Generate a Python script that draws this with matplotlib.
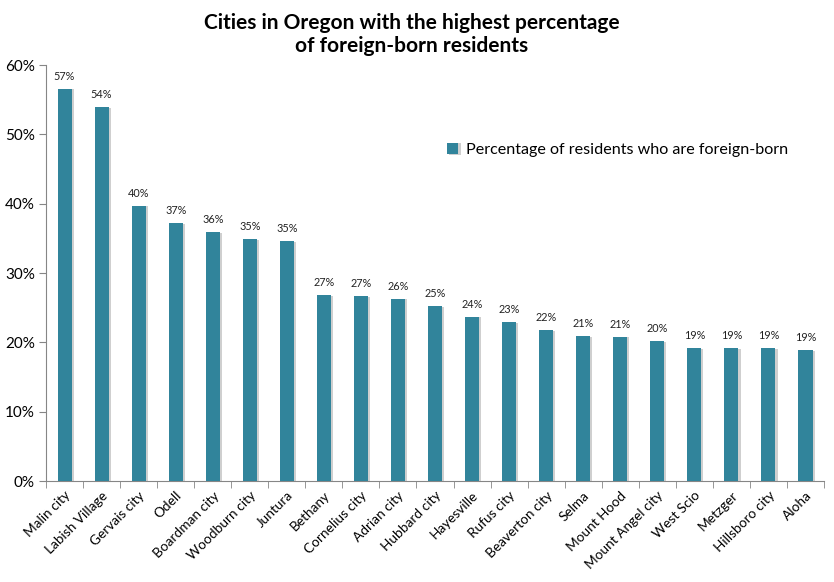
import matplotlib
matplotlib.use("Agg")
import matplotlib.pyplot as plt
import matplotlib.patheffects as pe
from matplotlib.ticker import FuncFormatter, MultipleLocator, FixedLocator
import numpy as np

cities = ["Malin city", "Labish Village", "Gervais city", "Odell", "Boardman city",
          "Woodburn city", "Juntura", "Bethany", "Cornelius city", "Adrian city",
          "Hubbard city", "Hayesville", "Rufus city", "Beaverton city", "Selma",
          "Mount Hood", "Mount Angel city", "West Scio", "Metzger", "Hillsboro city", "Aloha"]
values = [56.6, 53.9, 39.7, 37.2, 35.9, 34.9, 34.6, 26.8, 26.7, 26.3,
          25.2, 23.7, 22.9, 21.8, 20.9, 20.8, 20.2, 19.2, 19.2, 19.2, 18.9]
series_name = "Percentage of residents who are foreign-born"

plt.rcParams['font.family'] = ['Lato', 'DejaVu Sans']

fig = plt.figure(figsize=(8.34, 5.82), dpi=100)
ax = fig.add_axes([0.0552, 0.1735, 0.9328, 0.7148])

x = np.arange(len(cities))
color = "#31849B"
bars = ax.bar(x, values, width=0.38, color=color, label=series_name, zorder=3)
for b in bars:
    b.set_path_effects([pe.SimplePatchShadow(offset=(1.5, -0.5), shadow_rgbFace="#b0b0b0", alpha=0.6), pe.Normal()])

for xi, v in zip(x, values):
    ax.annotate(f"{round(v):d}%", (xi, v), xytext=(0, 5), textcoords="offset points",
                ha="center", va="bottom", fontsize=7.8, color="#222222")

ax.set_xlim(-0.5, len(cities) - 0.5)
ax.set_ylim(0, 60)
ax.yaxis.set_major_locator(MultipleLocator(10))
ax.yaxis.set_major_formatter(FuncFormatter(lambda v, p: f"{int(v)}%"))
ax.set_xticks(x)
ax.set_xticklabels(cities, rotation=45, ha="right", rotation_mode="anchor", fontsize=9.8)
ax.xaxis.set_minor_locator(FixedLocator(np.arange(-0.5, len(cities), 1.0)))
ax.tick_params(axis="x", which="major", length=0, pad=6)
ax.tick_params(axis="x", which="minor", length=5, color="#868686")
ax.tick_params(axis="y", length=5, color="#868686", labelsize=11, pad=3)

for s in ["top", "right"]:
    ax.spines[s].set_visible(False)
for s in ["left", "bottom"]:
    ax.spines[s].set_color("#868686")

leg = ax.legend(loc="upper left", bbox_to_anchor=(0.497, 0.848), frameon=False,
                fontsize=11.6, handlelength=0.7, handleheight=0.7, handletextpad=0.45)

fig.text(0.494, 0.978, "Cities in Oregon with the highest percentage\nof foreign-born residents",
         ha="center", va="top", fontsize=15, fontweight="bold", linespacing=1.2)

fig.savefig("out.png", dpi=100)
